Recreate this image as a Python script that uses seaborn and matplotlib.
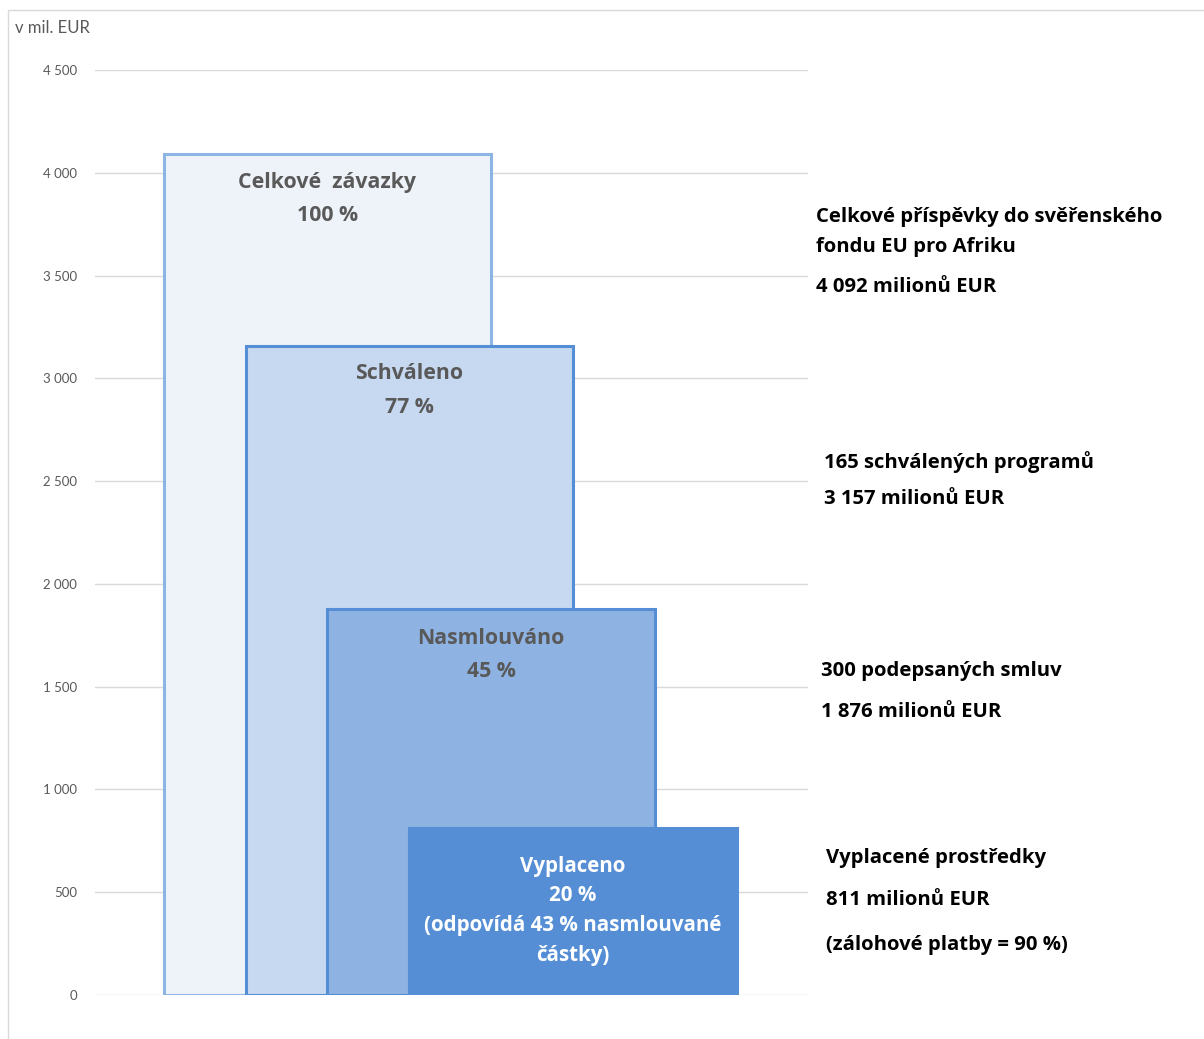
import matplotlib
matplotlib.use("Agg")
import matplotlib.pyplot as plt
import matplotlib.ticker as mticker
from matplotlib.patches import Rectangle
import seaborn as sns

stages = ["Celkové  závazky", "Schváleno", "Nasmlouváno", "Vyplaceno"]
amounts = [4092, 3157, 1876, 811]
shares = ["100 %", "77 %", "45 %", "20 %"]
extra = [[], [], [], ["(odpovídá 43 % nasmlouvané", "částky)"]]

side_notes = [
    ["Celkové příspěvky do svěřenského", "fondu EU pro Afriku", "4 092 milionů EUR"],
    ["165 schválených programů", "3 157 milionů EUR"],
    ["300 podepsaných smluv", "1 876 milionů EUR"],
    ["Vyplacené prostředky", "811 milionů EUR", "(zálohové platby = 90 %)"],
]

faces = ["#eef3f9", "#c6d9f0", "#8eb3e2", "#558ed5"]
edges = ["#8db4e2", "#558ed5", "#558ed5", "#558ed5"]
label_colors = ["#595959", "#595959", "#595959", "white"]
label_sizes = [15.3, 15.3, 15.3, 14.8]
# distance (px) of each label line below the top of its bar
line_offsets = [[29, 62], [27, 61], [29, 62], [38, 67, 97, 127]]

sns.set_theme(style="white")
plt.rcParams["font.family"] = ["Lato", "DejaVu Sans"]
bold_font = ["Open Sans", "DejaVu Sans"]

W, H = 1204, 1039
fig = plt.figure(figsize=(W / 100, H / 100), dpi=100)
ax = fig.add_axes([95 / W, (H - 995) / H, (808 - 95) / W, (995 - 70) / H])

sns.barplot(x=stages, y=amounts, hue=stages, palette=faces, width=4, saturation=1,
            errorbar=None, legend=False, ax=ax)
for patch, ec in zip(ax.patches, edges):
    patch.set_edgecolor(ec)
    patch.set_linewidth(2.2)

ax.set_xlim(-2.84, 5.87)
ax.set_ylim(0, 4500)
ax.set_yticks(range(0, 4501, 500))
ax.yaxis.set_major_formatter(mticker.FuncFormatter(lambda v, p: f"{v:,.0f}".replace(",", " ")))
ax.tick_params(axis="y", length=0, pad=13, labelsize=9.5, labelcolor="#595959")
ax.set_xticks([])
ax.set_xlabel("")
ax.set_ylabel("")
ax.yaxis.grid(True, color="#d9d9d9", linewidth=1)
ax.set_axisbelow(True)
sns.despine(ax=ax, left=True, bottom=True)

# labels inside the bars
for i, name in enumerate(stages):
    lines = [name, shares[i]] + extra[i]
    for line, off in zip(lines, line_offsets[i]):
        ax.annotate(line, xy=(i, amounts[i]), xytext=(0, -off * 0.72), textcoords="offset points",
                    ha="center", va="center", fontsize=label_sizes[i], fontweight="bold",
                    family=bold_font, color=label_colors[i])

# notes to the right
note_pos = [(816, [217, 247, 287]), (824, [462, 499]), (821, [671, 712]), (826, [858, 900, 945])]
for lines, (px, pys) in zip(side_notes, note_pos):
    for line, py in zip(lines, pys):
        fig.text(px / W, 1 - py / H, line, ha="left", va="center", family=bold_font,
                 fontsize=14.6, fontweight="bold", color="black")

fig.text(15 / W, 1 - 28 / H, "v mil. EUR", ha="left", va="center", fontsize=12, color="#595959")

fig.patches.append(Rectangle((8 / W, -0.05), 1.1, 1 - 10 / H + 0.05, transform=fig.transFigure,
                             fill=False, edgecolor="#d9d9d9", linewidth=1))

fig.savefig("out.png", dpi=100)
